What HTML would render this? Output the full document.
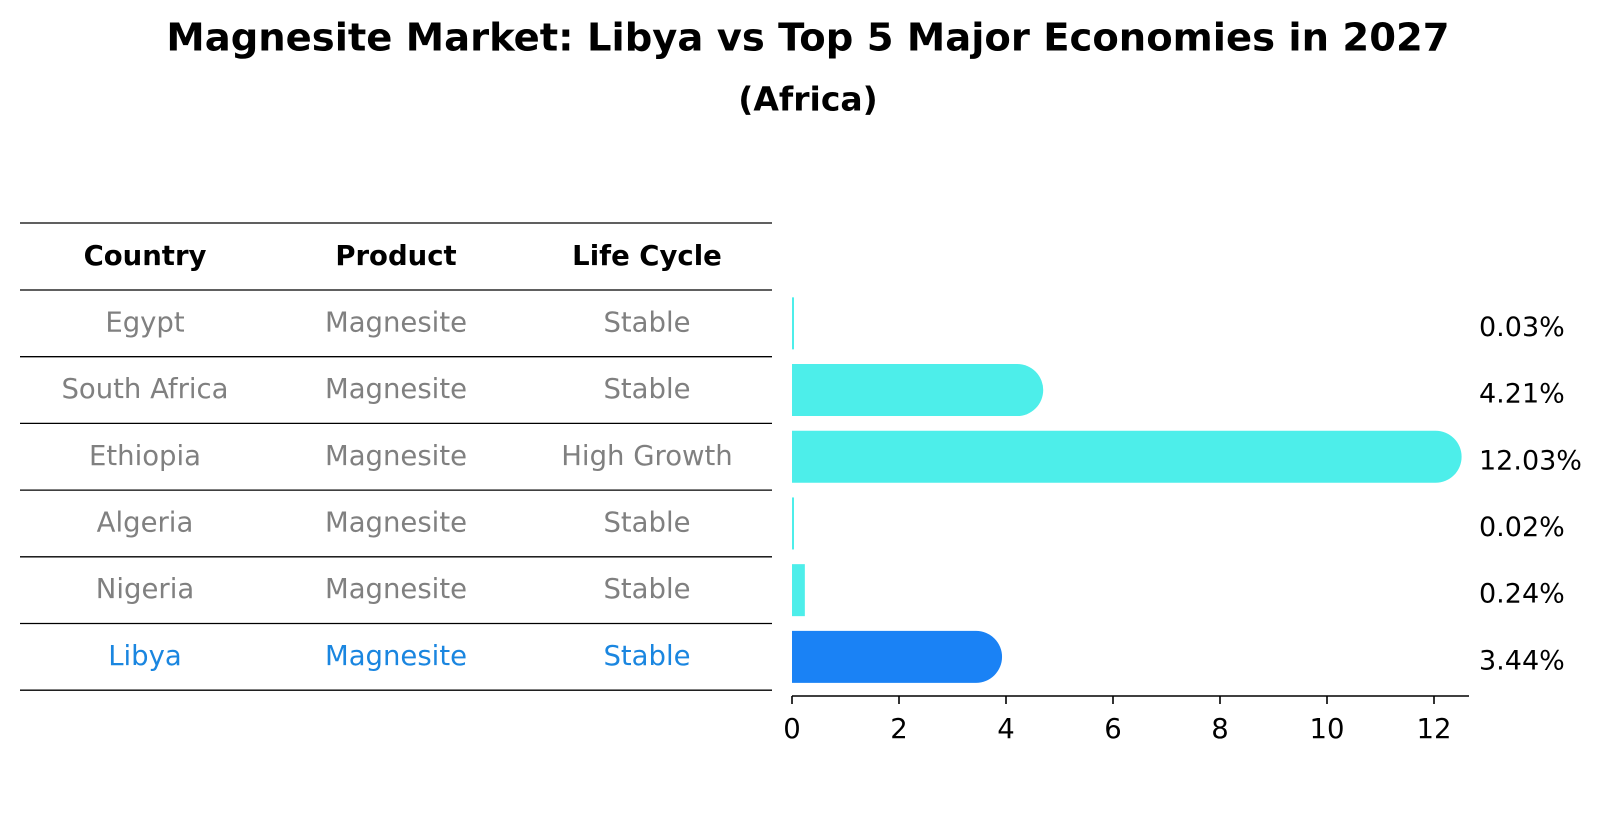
<!DOCTYPE html>
<html><head><meta charset="utf-8"><style>
html,body{margin:0;padding:0;background:#fff;}
svg{display:block;font-family:"DejaVu Sans","Liberation Sans",sans-serif;}
</style></head><body>
<svg id="chart" width="1604" height="823" viewBox="0 0 1604 823">
<text x="808" y="38" text-anchor="middle" dominant-baseline="central" font-size="38.5" font-weight="bold">Magnesite Market: Libya vs Top 5 Major Economies in 2027</text>
<text x="808" y="99" text-anchor="middle" dominant-baseline="central" font-size="33" font-weight="bold">(Africa)</text>
<g id="table"></g>
<g id="bars"></g>
</svg>
<script>
const countries = ["Egypt","South Africa","Ethiopia","Algeria","Nigeria","Libya"];
const products = ["Magnesite","Magnesite","Magnesite","Magnesite","Magnesite","Magnesite"];
const lifeCycles = ["Stable","Stable","High Growth","Stable","Stable","Stable"];
const values = [0.03,4.21,12.03,0.02,0.24,3.44];
const valueLabels = ["0.03%","4.21%","12.03%","0.02%","0.24%","3.44%"];
const ticks = [0,2,4,6,8,10,12];
const highlight = "Libya";

const NS = "http://www.w3.org/2000/svg";
function mk(tag, attrs, parent){const e=document.createElementNS(NS,tag);for(const k in attrs)e.setAttribute(k,attrs[k]);parent.appendChild(e);return e;}
const X0 = 792, PX = 53.5;
function xs(v){return X0 + v*PX;}
const rowTop = 290, rowH = 66.7;
function yc(i){return rowTop + rowH*(i+0.5);}

const tbl = document.getElementById('table');
const colX = [145,396,647];
const lines = [223];
for(let i=0;i<=countries.length;i++) lines.push(rowTop+rowH*i);
lines.forEach((y,i)=>{
  const l = mk('line',{x1:20,x2:772,y1:y,y2:y,stroke:'#000','stroke-width':1.3},tbl);
  
  
});
["Country","Product","Life Cycle"].forEach((h,j)=>{
  const t = mk('text',{x:colX[j],y:256,'text-anchor':'middle','dominant-baseline':'central','font-size':27.5,'font-weight':'bold'},tbl);
  t.textContent=h;
  
  
});
countries.forEach((c,i)=>{
  const col = c===highlight ? '#1a86e0' : '#808080';
  [c,products[i],lifeCycles[i]].forEach((v,j)=>{
    const t = mk('text',{x:colX[j],y:yc(i)-1,'text-anchor':'middle','dominant-baseline':'central','font-size':27.5,fill:col},tbl);
    t.textContent=v;
    
    
  });
});

const g = document.getElementById('bars');
const bh = 52, r = 26;
values.forEach((v,i)=>{
  const col = countries[i]===highlight ? '#1a82f5' : '#4deeea';
  const y = yc(i) - bh/2;
  const w = xs(v) - X0;
  let p;
  if (w > 2*r) {
    const xe = xs(v);
    p = mk('path',{d:`M${X0},${y} H${xe} A${r},${r} 0 0 1 ${xe},${y+bh} H${X0} Z`,fill:col},g);
  } else {
    p = mk('rect',{x:X0,y:y,width:Math.max(w,2),height:bh,fill:col},g);
  }
  
  
  const t = mk('text',{x:1479,y:yc(i)+4,'dominant-baseline':'central','font-size':27},g);
  t.textContent = valueLabels[i];
  
  
});
const ax = mk('line',{x1:X0,x2:1469,y1:696,y2:696,stroke:'#000','stroke-width':1.6},g);


ticks.forEach(t=>{
  const tm = mk('line',{x1:xs(t),x2:xs(t),y1:696,y2:704,stroke:'#000','stroke-width':1.6},g);
  
  
  const tl = mk('text',{x:xs(t),y:729,'text-anchor':'middle','dominant-baseline':'central','font-size':27.5},g);
  tl.textContent = t;
  
  
});
</script>
</body></html>
